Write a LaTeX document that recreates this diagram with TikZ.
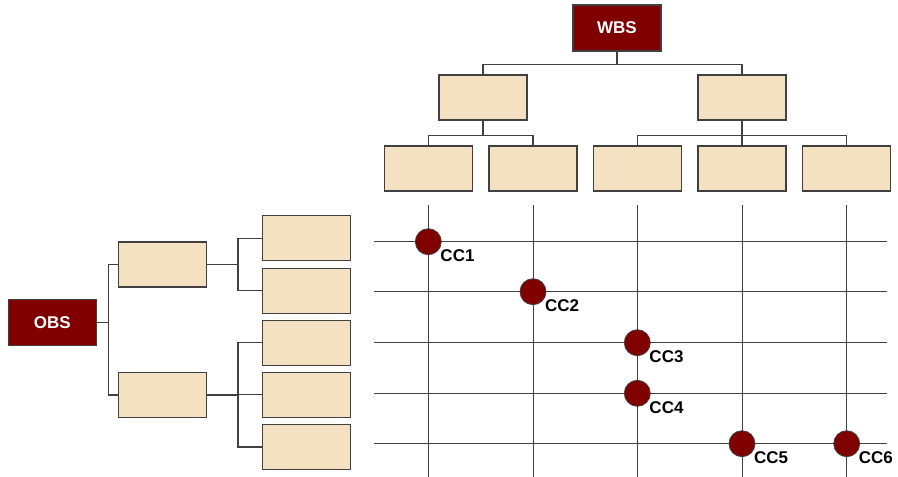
\documentclass[tikz,border=0pt]{standalone}
\usepackage{fontspec}
\setmainfont{Liberation Sans}
\usetikzlibrary{positioning}
\definecolor{maroonfill}{RGB}{128,0,0}
\definecolor{beigefill}{RGB}{244,225,194}
\definecolor{linegray}{RGB}{64,64,64}

\begin{document}
\begin{tikzpicture}
	[x=1pt,y=-1pt,
	box/.style={draw=linegray, line width=1.3pt, fill=beigefill, minimum width=88pt, minimum height=45pt, inner sep=0pt},
	headbox/.style={box, fill=maroonfill, text=white, minimum height=46pt, font=\fontsize{17}{20}\selectfont\bfseries},
	link/.style={draw=linegray, line width=1.3pt},
	gridline/.style={draw=linegray, line width=0.9pt},
	cost/.style={circle, draw=linegray, line width=0.8pt, fill=maroonfill, minimum size=26pt, inner sep=0pt},
	costlabel/.style={anchor=north west, inner sep=0pt, xshift=2.5pt, yshift=1.5pt, font=\fontsize{17}{20}\selectfont\bfseries}];

	\useasboundingbox (0,0) rectangle (898,477);

	%WBS tree
	\node[headbox] (wbs) at (617,28) {WBS};
	\node[box] (w1) at (483,97.5) {};
	\node[box] (w2) at (742,97.5) {};
	\node[box] (w11) at (428.3,168.5) {};
	\node[box] (w12) at (533,168.5) {};
	\node[box] (w21) at (637.3,168.5) {};
	\node[box] (w22) at (742,168.5) {};
	\node[box] (w23) at (846.7,168.5) {};

	\foreach \c in {w1,w2}
		\draw[link] (wbs.south) -- ++(0,12.5) -| (\c.north);
	\foreach \c in {w11,w12}
		\draw[link] (w1.south) -- ++(0,15) -| (\c.north);
	\foreach \c in {w21,w22,w23}
		\draw[link] (w2.south) -- ++(0,15) -| (\c.north);

	%OBS tree
	\node[headbox] (obs) at (52.3,322.7) {OBS};
	\node[box] (o1) at (162.8,264.5) {};
	\node[box] (o2) at (162.8,395) {};
	\node[box] (o11) at (306.7,238.3) {};
	\node[box] (o12) at (306.7,290.7) {};
	\node[box] (o13) at (306.7,342.8) {};
	\node[box] (o14) at (306.7,394.8) {};
	\node[box] (o15) at (306.7,447) {};

	\foreach \c in {o1,o2}
		\draw[link] (obs.east) -- ++(11.7,0) |- (\c.west);
	\foreach \c in {o11,o12}
		\draw[link] (o1.east) -- ++(30.4,0) |- (\c.west);
	\foreach \c in {o13,o14,o15}
		\draw[link] (o2.east) -- ++(30.4,0) |- (\c.west);

	%Matrix
	\foreach \c in {w11,w12,w21,w22,w23}
		\draw[gridline] (\c |- 0,205) -- (\c |- 0,477);
	\foreach \r in {241.7,291.7,342.7,393.3,443.7}
		\draw[gridline] (374,\r) -- (887,\r);

	%Cost accounts
	\node[cost, label={[costlabel]south east:CC1}] (cc1) at (w11 |- 0,241.7) {};
	\node[cost, label={[costlabel]south east:CC2}] (cc2) at (w12 |- 0,291.7) {};
	\node[cost, label={[costlabel]south east:CC3}] (cc3) at (w21 |- 0,342.7) {};
	\node[cost, label={[costlabel]south east:CC4}] (cc4) at (w21 |- 0,393.3) {};
	\node[cost, label={[costlabel]south east:CC5}] (cc5) at (w22 |- 0,443.7) {};
	\node[cost, label={[costlabel]south east:CC6}] (cc6) at (w23 |- 0,443.7) {};
\end{tikzpicture}
\end{document}
